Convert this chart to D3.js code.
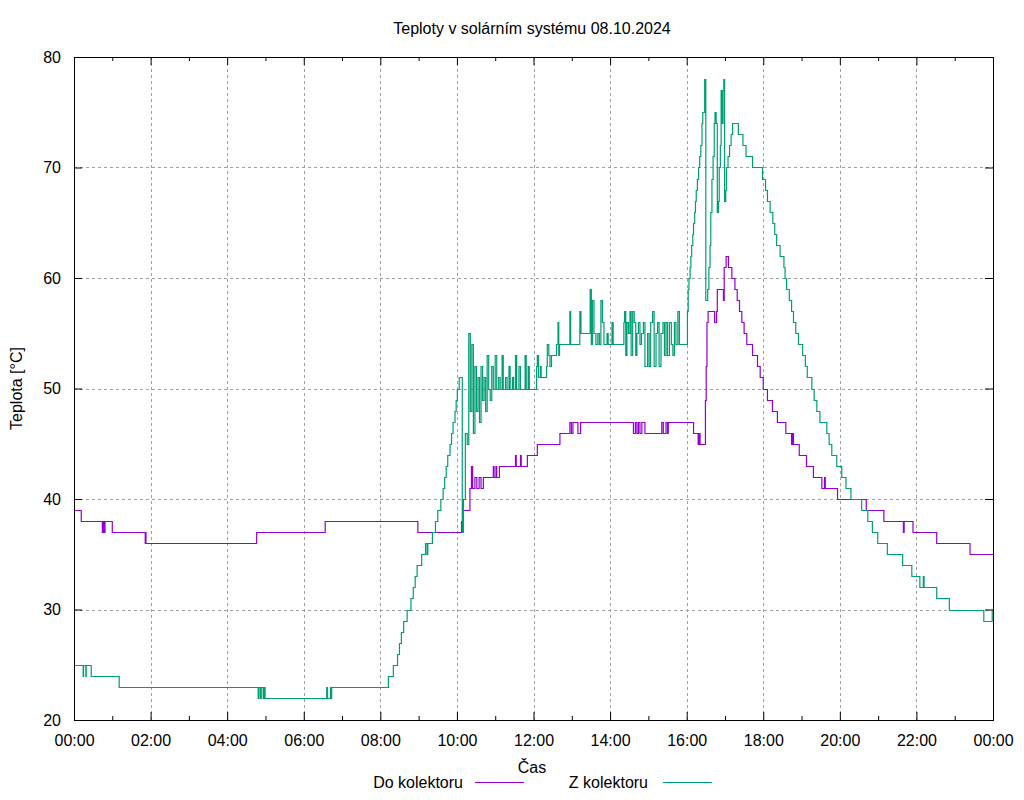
<!DOCTYPE html>
<html>
<head>
<meta charset="utf-8">
<script src="https://cdn.jsdelivr.net/npm/d3@7"></script>
<style>
  body { margin: 0; background: #fff; }
  text { font-family: "Liberation Sans", Arial, sans-serif; }
</style>
</head>
<body>
<svg id="chart" width="1024" height="800"></svg>
<script>
// temperature readings, [hour of day, °C], value holds until next point
var doKolektoru = [
  [0,39],[0.19,38],[0.74,37],[0.76,38],[0.79,37],[0.81,38],[1.00,37],[1.86,36],[1.87,37],[1.88,36],
  [4.77,37],[6.54,37],[6.56,38],[8.98,37],[10.12,38],[10.16,39],[10.34,41],[10.38,43],[10.41,41],
  [10.47,42],[10.52,41],[10.58,42],[10.63,41],[10.69,42],
  [10.95,43],[10.97,42],[11.02,43],[11.04,42],[11.11,43],[11.53,44],[11.55,43],[11.66,44],[11.68,43],
  [11.84,44],[12.10,45],[12.69,46],[12.95,47],[12.99,46],[13.03,47],[13.16,46],[13.23,47],[14.61,46],
  [14.66,47],[14.70,46],[14.74,47],[14.78,46],[14.83,47],[14.91,46],[15.35,47],[15.39,46],[15.46,47],
  [15.50,46],[15.52,47],[16.18,46],[16.30,45],[16.32,46],[16.35,45],[16.49,49],[16.51,52],[16.53,56],
  [16.56,57],[16.73,56],[16.78,57],[16.80,59],[16.96,58],[16.98,61],[17.03,62],[17.09,61],[17.18,60],
  [17.26,59],[17.32,58],[17.38,57],[17.44,56],[17.50,55],[17.57,54],[17.72,53],[17.85,52],[17.92,51],
  [18.00,50],[18.11,49],[18.24,48],[18.37,47],[18.59,46],[18.74,45],[18.76,46],[18.79,45],[18.94,44],
  [19.13,43],[19.31,42],[19.53,41],[19.60,42],[19.62,41],[19.94,40],[20.69,39],[21.15,38],[21.66,37],
  [21.68,38],[21.91,37],[22.53,36],[23.40,35],[24,35]
];

var zKolektoru = [
  [0,25],[0.24,24],[0.25,25],[0.31,24],[0.32,25],[0.45,24],[1.18,23],[4.81,22],[4.83,23],[4.87,22],
  [4.89,23],[4.94,22],[4.96,23],[4.99,22],[6.60,23],[6.62,22],[6.70,23],[6.71,22],[6.73,23],[8.21,24],
  [8.34,25],[8.45,26],[8.50,27],[8.55,28],[8.61,29],[8.70,30],[8.80,31],[8.86,32],[8.91,33],[8.96,34],
  [9.08,35],[9.18,36],[9.22,35],[9.24,36],[9.36,37],[9.44,38],[9.50,39],[9.58,40],[9.64,41],[9.68,42],
  [9.72,43],[9.76,44],[9.82,45],[9.86,46],[9.90,47],[9.95,48],[9.98,49],[10.01,50],[10.06,51],
  [10.14,37],[10.17,40],[10.22,46],[10.27,45],[10.31,55],[10.35,48],[10.39,54],[10.43,46],[10.47,52],
  [10.51,48],[10.55,51],[10.59,47],[10.63,52],[10.67,49],[10.71,51],[10.75,48],[10.79,53],[10.83,50],
  [10.87,49],[10.91,52],[10.95,50],[11.00,53],[11.04,50],[11.09,51],[11.13,50],[11.18,53],[11.21,50],
  [11.27,51],[11.31,50],[11.36,52],[11.39,50],[11.45,51],[11.48,50],[11.53,53],[11.56,50],[11.62,52],
  [11.66,50],[11.78,53],[11.81,50],[11.86,52],[11.89,50],
  [12.08,52],[12.10,53],[12.13,51],[12.18,52],[12.20,51],[12.34,52],[12.36,54],[12.40,53],[12.43,52],
  [12.47,53],[12.60,54],[12.64,56],[12.66,53],[12.68,54],[12.95,57],[12.97,54],[13.21,57],[13.24,55],
  [13.48,59],[13.51,54],[13.54,58],[13.58,55],[13.63,54],[13.68,55],[13.72,54],[13.76,58],[13.80,56],
  [13.84,54],[13.92,55],[13.95,54],[14.05,56],[14.08,54],[14.36,56],[14.38,57],[14.41,53],[14.44,56],
  [14.48,55],[14.52,57],[14.55,53],[14.59,57],[14.63,56],[14.67,53],[14.70,55],[14.74,56],[14.78,54],
  [14.82,55],[14.87,56],[14.91,52],[14.98,55],[15.02,52],[15.06,56],[15.11,57],[15.15,52],[15.20,55],
  [15.24,56],[15.28,52],[15.33,55],[15.38,56],[15.42,53],[15.46,56],[15.50,53],[15.55,56],[15.60,54],
  [15.64,53],[15.68,56],[15.72,54],[15.77,57],[15.81,54],[16.02,57],[16.04,59],[16.06,60],[16.09,61],
  [16.11,62],[16.13,63],[16.16,64],[16.18,65],[16.21,66],[16.23,67],[16.25,68],[16.28,69],[16.31,70],
  [16.34,71],[16.37,72],[16.40,74],[16.42,75],[16.47,78],[16.50,58],[16.55,59],[16.58,61],[16.61,63],
  [16.63,66],[16.66,69],[16.69,71],[16.72,74],[16.74,75],[16.77,74],[16.80,66],[16.83,67],[16.85,70],
  [16.88,72],[16.90,77],[16.92,74],[16.95,77],[16.97,78],[16.99,67],[17.02,68],[17.04,70],[17.08,71],
  [17.12,72],[17.16,73],[17.20,74],[17.35,73],[17.47,72],[17.55,71],[17.72,70],[17.98,69],[18.06,68],
  [18.11,67],[18.18,66],[18.25,65],[18.30,64],[18.35,63],[18.44,62],[18.54,61],[18.57,60],[18.61,59],
  [18.68,58],[18.74,57],[18.79,56],[18.85,55],[18.92,54],[19.03,53],[19.10,52],[19.15,51],[19.27,50],
  [19.33,49],[19.40,48],[19.48,47],[19.66,46],[19.72,45],[19.79,44],[19.92,43],[20.05,42],[20.16,41],
  [20.29,40],[20.57,39],[20.73,38],[20.85,37],[20.99,36],[21.24,35],[21.64,34],[21.88,33],[22.09,32],
  [22.18,33],[22.20,32],[22.53,31],[22.86,30],[23.76,29],[23.98,30],[24,30]
];

var xTicks = [0,2,4,6,8,10,12,14,16,18,20,22,24];
var xMinor = [1,3,5,7,9,11,13,15,17,19,21,23];
var yTicks = [20,30,40,50,60,70,80];

var svg = d3.select("#chart");
var margin = {top: 57, right: 31, bottom: 80, left: 74};
var width = 1024 - margin.left - margin.right;
var height = 800 - margin.top - margin.bottom;

var x = d3.scaleLinear().domain([0, 24]).range([0, width]);
var y = d3.scaleLinear().domain([20, 80]).range([height, 0]);

var g = svg.append("g").attr("transform", "translate(" + margin.left + "," + margin.top + ")");

function hm(h) {
  return d3.format("02d")(h % 24) + ":00";
}

// grid
g.append("g").selectAll("line")
  .data(xTicks.slice(1, -1))
  .enter().append("line")
  .attr("x1", function(d) { return Math.round(x(d)) + 0.5; })
  .attr("x2", function(d) { return Math.round(x(d)) + 0.5; })
  .attr("y1", 0).attr("y2", height)
  .attr("stroke", "#a0a0a0")
  .attr("stroke-dasharray", "3,3");

g.append("g").selectAll("line")
  .data(yTicks.slice(1, -1))
  .enter().append("line")
  .attr("y1", function(d) { return Math.round(y(d)) + 0.5; })
  .attr("y2", function(d) { return Math.round(y(d)) + 0.5; })
  .attr("x1", 0).attr("x2", width)
  .attr("stroke", "#a0a0a0")
  .attr("stroke-dasharray", "3,3");

// data lines
var line = d3.line()
  .x(function(d) { return x(d[0]); })
  .y(function(d) { return Math.round(y(d[1])) + 0.5; })
  .curve(d3.curveStepAfter);

g.append("path")
  .datum(doKolektoru)
  .attr("d", line)
  .attr("fill", "none")
  .attr("stroke", "#9400d3")
  .attr("stroke-width", 1.2);

g.append("path")
  .datum(zKolektoru)
  .attr("d", line)
  .attr("fill", "none")
  .attr("stroke", "#009e73")
  .attr("stroke-width", 1.2);

// axes, ticks inside like gnuplot
var bottomAxis = g.append("g")
  .attr("transform", "translate(0," + height + ")")
  .call(d3.axisBottom(x).tickValues(xTicks).tickFormat(hm).tickSize(-8).tickPadding(15));
bottomAxis.append("g").call(d3.axisBottom(x).tickValues(xMinor).tickFormat("").tickSize(-4));

var topAxis = g.append("g")
  .call(d3.axisTop(x).tickValues(xTicks).tickFormat("").tickSize(-8));
topAxis.append("g").call(d3.axisTop(x).tickValues(xMinor).tickFormat("").tickSize(-4));

g.append("g")
  .call(d3.axisLeft(y).tickValues(yTicks).tickSize(-8).tickPadding(13));
g.append("g")
  .attr("transform", "translate(" + width + ",0)")
  .call(d3.axisRight(y).tickValues(yTicks).tickFormat("").tickSize(-8));

g.selectAll(".domain").remove();
g.selectAll(".tick line").attr("stroke", "#000");
g.selectAll(".tick text")
  .attr("fill", "#000")
  .style("font-size", "16px")
  .style("font-family", "'Liberation Sans', Arial, sans-serif");

g.append("rect")
  .attr("x", 0.5).attr("y", 0.5)
  .attr("width", width).attr("height", height)
  .attr("fill", "none")
  .attr("stroke", "#000");

// texts
svg.append("text")
  .attr("x", 532).attr("y", 34)
  .attr("text-anchor", "middle")
  .style("font-size", "16px")
  .text("Teploty v solárním systému 08.10.2024");

svg.append("text")
  .attr("transform", "translate(22," + (margin.top + height / 2) + ") rotate(-90)")
  .attr("text-anchor", "middle")
  .style("font-size", "16px")
  .text("Teplota [°C]");

svg.append("text")
  .attr("x", 532).attr("y", 773)
  .attr("text-anchor", "middle")
  .style("font-size", "16px")
  .text("Čas");

// legend
var legend = [
  {name: "Do kolektoru", color: "#9400d3", textEnd: 463, lineStart: 475},
  {name: "Z kolektoru", color: "#009e73", textEnd: 648, lineStart: 663}
];

var leg = svg.append("g").selectAll("g")
  .data(legend)
  .enter().append("g");

leg.append("text")
  .attr("x", function(d) { return d.textEnd; })
  .attr("y", 788)
  .attr("text-anchor", "end")
  .style("font-size", "16px")
  .text(function(d) { return d.name; });

leg.append("line")
  .attr("x1", function(d) { return d.lineStart; })
  .attr("x2", function(d) { return d.lineStart + 49; })
  .attr("y1", 782.5).attr("y2", 782.5)
  .attr("stroke", function(d) { return d.color; })
  .attr("stroke-width", 1.2);
</script>
</body>
</html>
